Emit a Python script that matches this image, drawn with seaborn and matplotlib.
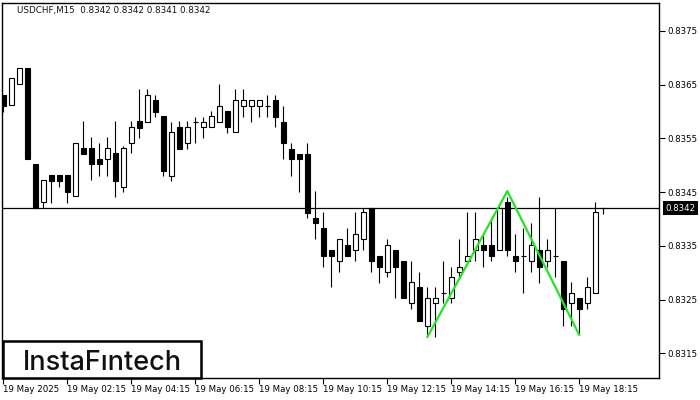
import numpy as np
import pandas as pd
import seaborn as sns
import matplotlib.pyplot as plt
from matplotlib.patches import Rectangle

sns.set_style("white")
plt.rcParams["font.family"] = ["DejaVu Sans"]

# USDCHF M15 candles (one per 15 minutes)
opens = [
    0.83631, 0.83612, 0.83651, 0.83681, 0.83502, 0.83432, 0.83482, 0.83482,
    0.83482, 0.83443, 0.83532, 0.83532, 0.83512, 0.83512, 0.83523, 0.83459,
    0.83541, 0.83582, 0.83581, 0.83622, 0.83592, 0.83480, 0.83571, 0.83541,
    0.83581, 0.83571, 0.83571, 0.83581, 0.83601, 0.83562, 0.83610, 0.83610,
    0.83610, 0.83610, 0.83622, 0.83581, 0.83530, 0.83521, 0.83521, 0.83402,
    0.83383, 0.83342, 0.83322, 0.83351, 0.83342, 0.83363, 0.83420, 0.83331,
    0.83301, 0.83342, 0.83322, 0.83243, 0.83273, 0.83201, 0.83243, 0.83262,
    0.83253, 0.83301, 0.83322, 0.83342, 0.83351, 0.83351, 0.83342, 0.83432,
    0.83331, 0.83331, 0.83322, 0.83342, 0.83322, 0.83331, 0.83322, 0.83243,
    0.83253, 0.83243, 0.83262, 0.83420,
]
highs = [
    0.83631, 0.83662, 0.83681, 0.83681, 0.83502, 0.83473, 0.83482, 0.83482,
    0.83482, 0.83541, 0.83582, 0.83553, 0.83541, 0.83553, 0.83582, 0.83536,
    0.83582, 0.83642, 0.83642, 0.83631, 0.83592, 0.83581, 0.83582, 0.83582,
    0.83590, 0.83590, 0.83601, 0.83651, 0.83601, 0.83642, 0.83642, 0.83622,
    0.83622, 0.83631, 0.83631, 0.83610, 0.83541, 0.83521, 0.83541, 0.83452,
    0.83413, 0.83342, 0.83363, 0.83383, 0.83413, 0.83420, 0.83420, 0.83331,
    0.83363, 0.83342, 0.83322, 0.83322, 0.83301, 0.83273, 0.83273, 0.83322,
    0.83311, 0.83363, 0.83413, 0.83413, 0.83372, 0.83402, 0.83425, 0.83441,
    0.83372, 0.83383, 0.83392, 0.83441, 0.83363, 0.83420, 0.83322, 0.83283,
    0.83253, 0.83292, 0.83432, 0.83420,
]
lows = [
    0.83599, 0.83612, 0.83651, 0.83512, 0.83420, 0.83420, 0.83430, 0.83459,
    0.83430, 0.83443, 0.83521, 0.83473, 0.83480, 0.83480, 0.83441, 0.83450,
    0.83523, 0.83551, 0.83581, 0.83590, 0.83480, 0.83471, 0.83530, 0.83530,
    0.83541, 0.83551, 0.83571, 0.83581, 0.83560, 0.83562, 0.83590, 0.83581,
    0.83590, 0.83590, 0.83571, 0.83512, 0.83480, 0.83450, 0.83402, 0.83363,
    0.83311, 0.83273, 0.83301, 0.83331, 0.83322, 0.83342, 0.83301, 0.83281,
    0.83292, 0.83253, 0.83253, 0.83232, 0.83210, 0.83184, 0.83180, 0.83243,
    0.83243, 0.83292, 0.83322, 0.83322, 0.83311, 0.83322, 0.83342, 0.83331,
    0.83301, 0.83262, 0.83301, 0.83281, 0.83311, 0.83292, 0.83201, 0.83201,
    0.83184, 0.83232, 0.83262, 0.83410,
]
closes = [
    0.83610, 0.83662, 0.83681, 0.83512, 0.83420, 0.83473, 0.83471, 0.83471,
    0.83450, 0.83541, 0.83521, 0.83502, 0.83502, 0.83532, 0.83471, 0.83532,
    0.83571, 0.83569, 0.83631, 0.83599, 0.83489, 0.83562, 0.83530, 0.83571,
    0.83581, 0.83581, 0.83592, 0.83610, 0.83571, 0.83622, 0.83622, 0.83622,
    0.83622, 0.83610, 0.83590, 0.83541, 0.83512, 0.83512, 0.83411, 0.83392,
    0.83331, 0.83331, 0.83363, 0.83331, 0.83372, 0.83413, 0.83322, 0.83311,
    0.83351, 0.83311, 0.83253, 0.83283, 0.83210, 0.83253, 0.83253, 0.83262,
    0.83292, 0.83311, 0.83331, 0.83363, 0.83342, 0.83331, 0.83420, 0.83342,
    0.83322, 0.83331, 0.83351, 0.83311, 0.83342, 0.83331, 0.83232, 0.83262,
    0.83232, 0.83273, 0.83413, 0.83420,
]

# green double-bottom pattern: bar index and price of each vertex
pattern_bars = [53, 63, 72]
pattern_prices = [0.83180, 0.83452, 0.83184]

last_price = 0.8342
title = "USDCHF,M15  0.8342 0.8342 0.8341 0.8342"

price_ticks = [0.8315, 0.8325, 0.8335, 0.8345, 0.8355, 0.8365, 0.8375]
time_tick_bars = [0, 8, 16, 24, 32, 40, 48, 56, 64, 72]
time_labels = [
    "19 May 2025", "19 May 02:15", "19 May 04:15", "19 May 06:15",
    "19 May 08:15", "19 May 10:15", "19 May 12:15", "19 May 14:15",
    "19 May 16:15", "19 May 18:15",
]


def main():
    df = pd.DataFrame({"open": opens, "high": highs, "low": lows, "close": closes})
    df["x"] = np.arange(len(df))
    df["up"] = df["close"] >= df["open"]
    df["body_lo"] = df[["open", "close"]].min(axis=1)
    df["body_h"] = (df["close"] - df["open"]).abs()

    fig = plt.figure(figsize=(7, 4), dpi=100)
    ax = fig.add_axes([2 / 700, 22 / 400, 657 / 700, 375 / 400])

    # wicks first, bodies on top so white bodies hide the wick
    ax.vlines(df["x"], df["low"], df["high"], color="black", lw=0.8, zorder=2)
    up = df[df["up"]]
    down = df[~df["up"]]
    ax.bar(up["x"], up["body_h"], bottom=up["body_lo"], width=0.6,
           color="white", edgecolor="black", linewidth=0.8, zorder=3)
    ax.bar(down["x"], down["body_h"], bottom=down["body_lo"], width=0.6,
           color="black", edgecolor="black", linewidth=0.8, zorder=3)

    sns.lineplot(x=pattern_bars, y=pattern_prices, color="#22e622", lw=1.6,
                 ax=ax, zorder=4)

    ax.axhline(last_price, color="black", lw=0.9, zorder=1)

    ax.set_xlim(-0.16, 81.96)
    ax.set_ylim(0.83104, 0.83802)

    ax.yaxis.tick_right()
    ax.set_yticks(price_ticks)
    ax.set_yticklabels([f"{p:.4f}" for p in price_ticks])
    ax.set_xticks(time_tick_bars)
    ax.set_xticklabels(time_labels, ha="left")
    ax.tick_params(axis="y", right=True, left=False, direction="out",
                   length=4, width=0.8, labelsize=6.2, pad=2, colors="black")
    ax.tick_params(axis="x", bottom=True, direction="out", length=4,
                   width=0.8, labelsize=6.2, pad=1, colors="black")
    for s in ax.spines.values():
        s.set_color("black")
        s.set_linewidth(1.0)

    fig.text(17 / 700, 1 - 10 / 400, title, fontsize=6.3, va="center",
             color="#111111")

    ax.annotate(f"{last_price:.4f}", xy=(1.0, last_price),
                xycoords=("axes fraction", "data"), xytext=(4.5, 0),
                textcoords="offset points", va="center", ha="left",
                fontsize=6.2, color="white",
                bbox=dict(boxstyle="square,pad=0.3", facecolor="black",
                          edgecolor="none"))

    # logo box in the lower left corner
    fig.add_artist(Rectangle((3 / 700, 22 / 400), 198 / 700, 37 / 400,
                             transform=fig.transFigure, facecolor="white",
                             edgecolor="black", linewidth=1.8, zorder=10))
    fig.text(23 / 700, 1 - 370 / 400, "InstaF\u0131ntech", fontsize=19.5,
             family=["Inter", "DejaVu Sans"], fontweight="medium",
             va="baseline", color="#111111", zorder=11)

    fig.savefig("out.png", dpi=100)
    plt.close(fig)


if __name__ == "__main__":
    main()
